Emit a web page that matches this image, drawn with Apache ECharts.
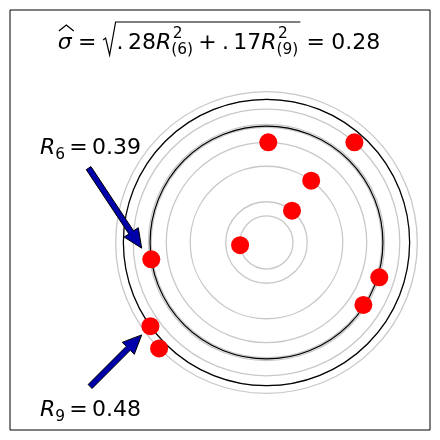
<!DOCTYPE html>
<html><head><meta charset="utf-8">
<script src="https://cdn.jsdelivr.net/npm/echarts/dist/echarts.min.js"></script>
<style>html,body{margin:0;padding:0;background:#fff}#c{width:440px;height:440px}</style>
</head><body><div id="c"></div>
<script>
// ---- data ----
const pointX = [-0.088, 0.085, 0.149, 0.006, 0.293, 0.376, 0.323, -0.384, -0.387, -0.358];
const pointY = [-0.009, 0.106, 0.206, 0.334, 0.334, -0.116, -0.208, -0.056, -0.279, -0.353];
const center = [0, 0];
const coefA = 0.28, coefB = 0.17;
const orderA = 6, orderB = 9;
const arrowA = [-0.593, 0.248, -0.416, -0.019];   // tail x,y -> tip x,y
const arrowB = [-0.588, -0.480, -0.416, -0.308];
const labelA = [-0.755, 0.292];                    // left, baseline
const labelB = [-0.755, -0.582];
const xRange = [-0.855, 0.545];
const yRange = [-0.625, 0.775];

// ---- derived ----
const radii = pointX.map((x, i) => Math.hypot(x - center[0], pointY[i] - center[1]));
const sorted = radii.slice().sort((a, b) => a - b);
const rA = sorted[orderA - 1], rB = sorted[orderB - 1];
const sigma = Math.sqrt(coefA * rA * rA + coefB * rB * rB);

const chart = echarts.init(document.getElementById('c'), null, {renderer: 'canvas'});

function ringSeries(rs, color, lw, z) {
  return {
    type: 'custom', coordinateSystem: 'cartesian2d', z: z, silent: true,
    data: rs.map(r => [center[0], center[1], r]),
    encode: {x: 0, y: 1},
    renderItem: function (params, api) {
      const c = api.coord([api.value(0), api.value(1)]);
      const r = api.size([api.value(2), 0])[0];
      return {type: 'circle', shape: {cx: c[0], cy: c[1], r: r},
        style: {fill: 'none', stroke: color, lineWidth: lw}};
    }
  };
}

function arrowPoly(p1, p2, w, hw, hl) {
  const dx = p2[0] - p1[0], dy = p2[1] - p1[1], L = Math.hypot(dx, dy);
  const ux = dx / L, uy = dy / L, nx = -uy, ny = ux;
  const bx = p2[0] - ux * hl, by = p2[1] - uy * hl;
  return [[p1[0] + nx * w / 2, p1[1] + ny * w / 2], [bx + nx * w / 2, by + ny * w / 2],
    [bx + nx * hw / 2, by + ny * hw / 2], [p2[0], p2[1]], [bx - nx * hw / 2, by - ny * hw / 2],
    [bx - nx * w / 2, by - ny * w / 2], [p1[0] - nx * w / 2, p1[1] - ny * w / 2]];
}

const hiddenAxis = {show: false, splitLine: {show: false}};
chart.setOption({
  animation: false,
  grid: {left: 10, top: 10, width: 420, height: 420, show: true, borderColor: '#000', borderWidth: 1, backgroundColor: '#fff'},
  xAxis: Object.assign({type: 'value', min: xRange[0], max: xRange[1]}, hiddenAxis),
  yAxis: Object.assign({type: 'value', min: yRange[0], max: yRange[1]}, hiddenAxis),
  series: [
    ringSeries(radii, '#c8c8c8', 1.3, 1),
    ringSeries([rA, rB], '#000000', 1.2, 2),
    {type: 'scatter', z: 3, silent: true, symbolSize: 18,
      data: pointX.map((x, i) => [x, pointY[i]]),
      itemStyle: {color: '#ff0000', opacity: 1}},
    {type: 'custom', coordinateSystem: 'cartesian2d', z: 4, silent: true,
      data: [arrowA, arrowB], encode: {x: [0, 2], y: [1, 3]},
      renderItem: function (params, api) {
        const p1 = api.coord([api.value(0), api.value(1)]);
        const p2 = api.coord([api.value(2), api.value(3)]);
        return {type: 'polygon', shape: {points: arrowPoly(p1, p2, 5.6, 17, 19)},
          style: {fill: '#0000aa', stroke: '#000', lineWidth: 1}};
      }}
  ]
});

// ---- math text layout ----
const FONT = '"DejaVu Sans"';
const ctx = document.createElement('canvas').getContext('2d');
function tw(t, size, it) { ctx.font = (it ? 'italic ' : '') + size + 'px ' + FONT; return ctx.measureText(t).width; }
const OFF = 0.297;
function txt(t, x, base, size, it) {
  return {type: 'text', x: x, y: base - OFF * size, silent: true,
    style: {text: t, font: (it ? 'italic ' : '') + size + 'px ' + FONT, fill: '#000',
      textAlign: 'left', verticalAlign: 'middle', textVerticalAlign: 'middle'}};
}

const F = 22, f = 0.7 * F, sp = 0.2 * tw('m', F), rs = 6.2;
const g = [];
function buildTitle(x0, base) {
  const out = [];
  let x = x0;
  const ws = tw('σ', F, true);
  out.push(txt('σ', x, base, F, true));
  out.push({type: 'polyline', silent: true, shape: {points: [[x + 1, base - 19], [x + ws / 2 + 1.5, base - 25], [x + ws + 2, base - 19]]},
    style: {stroke: '#000', lineWidth: 1.3, fill: 'none'}});
  x += ws + rs;
  out.push(txt('=', x, base, F)); x += tw('=', F) + rs;
  const rx = x, rw = 14;
  x += rw;
  function term(coef, ord) {
    out.push(txt('.', x, base, F)); x += tw('.', F) + sp;
    out.push(txt(coef, x, base, F)); x += tw(coef, F);
    out.push(txt('R', x, base, F, true)); x += tw('R', F, true);
    out.push(txt('2', x + 1.5, base - 11, f));
    out.push(txt('(' + ord + ')', x, base + 5, f));
    x += Math.max(tw('2', f) + 1.5, tw('(' + ord + ')', f));
  }
  term(coefA.toFixed(2).slice(2), orderA);
  x += sp + 1; out.push(txt('+', x, base, F)); x += tw('+', F) + sp + 1;
  term(coefB.toFixed(2).slice(2), orderB);
  const oe = x + 2; x += 2;
  out.push({type: 'polyline', silent: true, shape: {points: [[rx + 0.5, base - 10], [rx + 3, base - 12], [rx + 7, base + 5], [rx + rw - 1, base - 28], [oe, base - 28]]},
    style: {stroke: '#000', lineWidth: 1.2, fill: 'none'}});
  x += rs; out.push(txt('=', x, base, F)); x += tw('=', F) + rs;
  out.push(txt(sigma.toFixed(2), x, base, F)); x += tw(sigma.toFixed(2), F);
  return {els: out, width: x - x0};
}
const probe = buildTitle(0, 50);
const title = buildTitle(219 - probe.width / 2, 50);
title.els.forEach(e => g.push(e));

function rLabel(pos, ord, val) {
  const p = chart.convertToPixel({gridIndex: 0}, pos);
  let x = p[0]; const base = p[1];
  g.push(txt('R', x, base, F, true)); x += tw('R', F, true);
  g.push(txt(String(ord), x, base + 4.5, f)); x += tw(String(ord), f);
  x += sp; g.push(txt('=', x, base, F)); x += tw('=', F) + sp;
  g.push(txt(val.toFixed(2), x, base, F));
}
rLabel(labelA, orderA, rA);
rLabel(labelB, orderB, rB);

chart.setOption({graphic: {elements: g}});
</script></body></html>
